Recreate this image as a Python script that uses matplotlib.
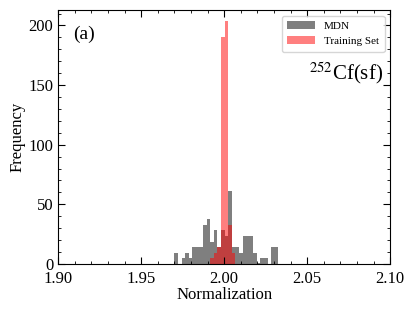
import numpy as np
import matplotlib
matplotlib.use("Agg")
import matplotlib.pyplot as plt
from matplotlib.ticker import MultipleLocator

plt.rcParams['font.family'] = ['Liberation Serif', 'DejaVu Serif']
plt.rcParams['mathtext.fontset'] = 'stix'

# shared bin edges (29 bins)
bin_edges = np.linspace(1.9701, 2.0327, 30)

# heights
mdn_counts = [9.4, 0, 4.7, 9.4, 4.7, 14.1, 14.1, 14.1, 32.9, 37.6,
              18.8, 28.2, 14.1, 28.2, 23.5, 61.1, 14.1, 14.1, 9.4, 23.5,
              23.5, 23.5, 9.4, 1.0, 4.7, 4.7, 0, 14.1, 14.1]
train_counts = [0, 0, 0, 0, 0, 0, 0, 0, 0, 0,
                4.7, 9.4, 14.1, 190, 204, 32.9, 9.4, 0, 0, 0,
                0, 0, 0, 0, 0, 0, 0, 0, 0]

fig = plt.figure(figsize=(4.15, 3.12), dpi=100)
ax = fig.add_axes([0.14, 0.154, 0.8, 0.814])

centers = bin_edges[:-1]
ax.hist(centers, bins=bin_edges, weights=mdn_counts, color='k', alpha=0.5, label='MDN')
ax.hist(centers, bins=bin_edges, weights=train_counts, color='red', alpha=0.5, label='Training Set')

ax.set_xlim(1.90, 2.10)
ax.set_ylim(0, 213)
ax.xaxis.set_major_locator(MultipleLocator(0.05))
ax.xaxis.set_minor_locator(MultipleLocator(0.01))
ax.yaxis.set_major_locator(MultipleLocator(50))
ax.yaxis.set_minor_locator(MultipleLocator(10))
ax.tick_params(which='both', direction='in', top=True, right=True, labelsize=12)
ax.tick_params(which='major', length=5)
ax.tick_params(which='minor', length=2.5)
ax.tick_params(axis='x', pad=5)
ax.xaxis.set_major_formatter(plt.FormatStrFormatter('%.2f'))

ax.set_xlabel('Normalization', fontsize=12, labelpad=0)
ax.set_ylabel('Frequency', fontsize=12, labelpad=2)

ax.text(0.045, 0.885, '(a)', transform=ax.transAxes, fontsize=14)
ax.text(0.98, 0.725, r'$^{252}$Cf(sf)', transform=ax.transAxes, fontsize=15, ha='right')

ax.legend(loc='upper right', fontsize=8, borderpad=0.5, handlelength=2.5)

fig.savefig('out.png', dpi=100)
